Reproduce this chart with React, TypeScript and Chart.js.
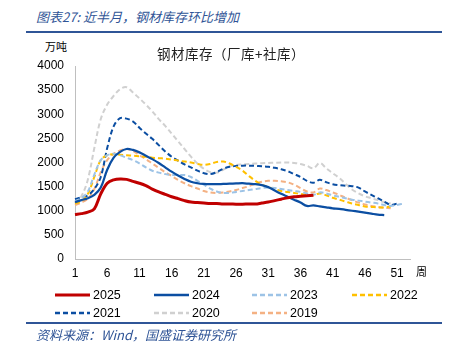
import React, { useEffect, useRef } from "react";
import { Chart, registerables } from "chart.js";

Chart.register(...registerables);

const weeks: string[] = Array.from({ length: 53 }, (_, i) => String(i + 1));
const yTicks = [0, 500, 1000, 1500, 2000, 2500, 3000, 3500, 4000];

const s2025 = [920, 940, 970, 1040, 1350, 1570, 1640, 1660, 1650, 1610, 1570, 1520, 1450, 1390, 1340, 1290, 1250, 1210, 1180, 1170, 1160, 1150, 1150, 1140, 1140, 1135, 1135, 1140, 1140, 1160, 1180, 1210, 1240, 1270, 1290, 1300, 1310, 1320];
const s2024 = [1180, 1220, 1260, 1330, 1480, 1850, 2100, 2220, 2280, 2260, 2210, 2140, 2070, 1990, 1900, 1810, 1730, 1660, 1600, 1570, 1555, 1550, 1550, 1555, 1560, 1565, 1570, 1560, 1550, 1530, 1490, 1420, 1350, 1290, 1230, 1170, 1100, 1110, 1090, 1070, 1050, 1040, 1020, 1000, 980, 960, 940, 920, 910];
const s2023 = [1200, 1260, 1400, 1750, 2050, 2150, 2180, 2150, 2100, 2050, 1980, 1900, 1830, 1790, 1760, 1740, 1740, 1740, 1700, 1620, 1540, 1460, 1400, 1370, 1370, 1390, 1410, 1430, 1450, 1470, 1480, 1470, 1450, 1430, 1410, 1390, 1360, 1330, 1380, 1360, 1320, 1290, 1260, 1230, 1210, 1190, 1170, 1150, 1120, 1100, 1120, 1150];
const s2022 = [1150, 1200, 1350, 1700, 2050, 2150, 2170, 2160, 2150, 2140, 2130, 2120, 2100, 2090, 2080, 2060, 2040, 2020, 2000, 1970, 1950, 1970, 2010, 2020, 1980, 1910, 1830, 1720, 1620, 1540, 1490, 1450, 1410, 1390, 1370, 1350, 1330, 1320, 1360, 1320, 1270, 1230, 1190, 1150, 1120, 1090, 1080, 1070, 1070, 1090];
const s2021 = [1240, 1280, 1320, 1450, 1700, 2300, 2750, 2920, 2910, 2850, 2720, 2600, 2490, 2360, 2230, 2120, 2040, 1960, 1900, 1830, 1780, 1760, 1800, 1870, 1910, 1930, 1935, 1935, 1930, 1920, 1910, 1890, 1860, 1820, 1760, 1700, 1620, 1580, 1640, 1590, 1550, 1530, 1520, 1510, 1480, 1400, 1330, 1260, 1190, 1120, 1150];
const s2020 = [1150, 1300, 1650, 2300, 2900, 3200, 3380, 3520, 3560, 3450, 3330, 3200, 3060, 2900, 2760, 2600, 2440, 2280, 2120, 1980, 1870, 1800, 1790, 1850, 1920, 1950, 1960, 1970, 1980, 1985, 1990, 1995, 2000, 2000, 1990, 1970, 1930, 1880, 1990, 1880, 1780, 1680, 1560, 1440, 1360, 1300, 1260, 1220, 1180, 1150];
const s2019 = [1120, 1170, 1250, 1450, 1800, 2050, 2180, 2250, 2280, 2240, 2150, 2070, 1980, 1890, 1800, 1720, 1640, 1570, 1510, 1460, 1410, 1380, 1370, 1380, 1400, 1430, 1470, 1510, 1560, 1600, 1620, 1620, 1610, 1590, 1540, 1470, 1400, 1380, 1460, 1430, 1380, 1330, 1270, 1220, 1170, 1130, 1100, 1080, 1060, 1050];

const seriesNames = ["2025", "2024", "2023", "2022", "2021", "2020", "2019"];
const seriesData = [s2025, s2024, s2023, s2022, s2021, s2020, s2019];
const seriesColors = ["#C00000", "#0B4EA2", "#9DC3E6", "#FFC000", "#0B4EA2", "#D0D0D0", "#F4B183"];
const seriesWidths = [3, 2.25, 2, 2, 2, 2, 2];
const seriesDashed = [false, false, true, true, true, true, true];

const FONT = "'Liberation Sans', Arial, sans-serif";
const CJK = "'Noto Sans CJK SC', 'Noto Sans', sans-serif";

export default function App() {
  const ref = useRef<HTMLCanvasElement | null>(null);

  useEffect(() => {
    if (!ref.current) return;
    const chart = new Chart(ref.current, {
      type: "line",
      data: {
        labels: weeks,
        datasets: seriesNames.map((n, i) => ({
          label: n,
          data: seriesData[i],
          borderColor: seriesColors[i],
          backgroundColor: seriesColors[i],
          borderWidth: seriesWidths[i],
          borderDash: seriesDashed[i] ? [5, 3] : [],
          pointRadius: 0,
          tension: 0.35,
          fill: false,
        })),
      },
      options: {
        responsive: false,
        animation: false,
        maintainAspectRatio: false,
        layout: { padding: { top: 66, right: 44, bottom: 0, left: 0 } },
        plugins: { legend: { display: false }, tooltip: { enabled: false }, title: { display: false } },
        scales: {
          x: {
            offset: false,
            grid: { display: false, drawTicks: false },
            border: { display: true, color: "#BFBFBF", width: 1 },
            afterFit: (s: any) => { s.height = 31; },
            ticks: {
              autoSkip: false,
              maxRotation: 0,
              padding: 7,
              color: "#000",
              font: { family: FONT, size: 12 },
              callback: (_v: any, i: number) => (i % 5 === 0 ? weeks[i] : ""),
            },
          },
          y: {
            min: 0,
            max: 4000,
            afterFit: (s: any) => { s.width = 75; },
            afterBuildTicks: (s: any) => { s.ticks = yTicks.map((v) => ({ value: v })); },
            grid: { display: false, drawTicks: false },
            border: { display: true, color: "#BFBFBF", width: 1 },
            ticks: {
              padding: 11,
              color: "#000",
              font: { family: FONT, size: 12 },
              callback: (v: any) => String(v),
            },
          },
        },
      },
    });
    return () => chart.destroy();
  }, []);

  const legendPos = [
    [55, 295], [154, 295], [252, 295], [352, 295],
    [55, 313], [154, 313], [252, 313],
  ];

  return (
    <div style={{ position: "absolute", left: 0, top: 0, width: 454, height: 351, background: "#fff", overflow: "hidden" }}>
      <div style={{ position: "absolute", left: 36, top: 8, fontFamily: CJK, fontStyle: "italic", fontSize: 13, color: "#2F5496", whiteSpace: "nowrap", lineHeight: "18px" }}>
        图表27:  近半月，钢材库存环比增加
      </div>
      <div style={{ position: "absolute", left: 26, top: 31, width: 416, height: 2, background: "#2F5597" }} />
      <div style={{ position: "absolute", left: 45, top: 39, fontFamily: CJK, fontSize: 11, color: "#000", whiteSpace: "nowrap", lineHeight: "14px" }}>万吨</div>
      <canvas ref={ref} width={454} height={290} style={{ position: "absolute", left: 0, top: 0, width: 454, height: 290 }} />
      <div style={{ position: "absolute", left: 0, top: 44, width: 462, textAlign: "center", fontFamily: CJK, fontSize: 13.5, letterSpacing: 0.5, color: "#222", whiteSpace: "nowrap", lineHeight: "18px" }}>
        钢材库存（厂库+社库）
      </div>
      <div style={{ position: "absolute", left: 416, top: 264, fontFamily: CJK, fontSize: 11, color: "#000", lineHeight: "14px" }}>周</div>
      {seriesNames.map((n, i) => (
        <div key={n} style={{ position: "absolute", left: legendPos[i][0], top: legendPos[i][1] - 8, height: 16, display: "flex", alignItems: "center", whiteSpace: "nowrap" }}>
          <svg width={35} height={6} style={{ display: "block" }}>
            <line x1={0} y1={3} x2={35} y2={3} stroke={seriesColors[i]} strokeWidth={i === 0 ? 3 : 2.5} strokeDasharray={seriesDashed[i] ? "5 3" : undefined} />
          </svg>
          <span style={{ marginLeft: 3, fontFamily: FONT, fontSize: 12.5, color: "#000", lineHeight: "16px" }}>{n}</span>
        </div>
      ))}
      <div style={{ position: "absolute", left: 26, top: 322, width: 416, height: 2, background: "#2F5597" }} />
      <div style={{ position: "absolute", left: 36, top: 326, fontFamily: CJK, fontStyle: "italic", fontSize: 13, color: "#2F5496", whiteSpace: "nowrap", lineHeight: "18px" }}>
        资料来源：Wind，国盛证券研究所
      </div>
    </div>
  );
}
